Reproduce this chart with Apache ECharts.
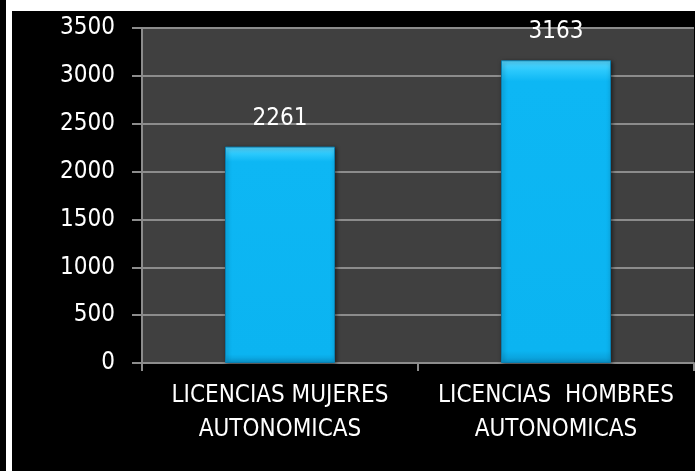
<!DOCTYPE html>
<html><head><meta charset="utf-8">
<script src="https://cdn.jsdelivr.net/npm/echarts@6/dist/echarts.min.js"></script>
<style>html,body{margin:0;padding:0;background:#fff}#c{width:699px;height:471px}</style>
</head><body><div id="c"></div>
<script>
var categories = ['LICENCIAS MUJERES\nAUTONOMICAS', 'LICENCIAS  HOMBRES\nAUTONOMICAS'];
var values = [2261, 3163];
var yTicks = [0, 500, 1000, 1500, 2000, 2500, 3000, 3500];

var FONT = '"Liberation Sans Narrow", "DejaVu Sans Condensed", sans-serif';
var chart = echarts.init(document.getElementById('c'), null, {renderer: 'canvas'});
chart.setOption({
  backgroundColor: '#ffffff',
  animation: false,
  graphic: [
    {type: 'rect', z: -10, shape: {x: 0, y: 0, width: 6, height: 471}, style: {fill: '#000'}},
    {type: 'rect', z: -10, shape: {x: 12, y: 11, width: 683, height: 460}, style: {fill: '#000'}}
  ],
  grid: {left: 142, right: 5, top: 28, bottom: 108, show: true, backgroundColor: '#404040', borderWidth: 0, z: 0},
  xAxis: {
    type: 'category', data: categories,
    axisLine: {lineStyle: {color: '#8c8c8c', width: 2}},
    axisTick: {show: true, length: 8, lineStyle: {color: '#8c8c8c', width: 2}},
    axisLabel: {color: '#ffffff', fontFamily: FONT, fontSize: 24, lineHeight: 34, margin: 16, interval: 0}
  },
  yAxis: {
    type: 'value', min: yTicks[0], max: yTicks[yTicks.length - 1], interval: 500,
    axisLine: {show: true, lineStyle: {color: '#8c8c8c', width: 2}},
    axisTick: {show: true, length: 10, lineStyle: {color: '#8c8c8c', width: 2}},
    splitLine: {lineStyle: {color: '#8c8c8c', width: 2}},
    axisLabel: {color: '#ffffff', fontFamily: FONT, fontSize: 24, margin: 27, formatter: function (v) { return String(v); }}
  },
  series: [{
    type: 'bar', data: values, barWidth: 110,
    itemStyle: {
      color: new echarts.graphic.LinearGradient(0, 0, 0, 1, [
        {offset: 0, color: '#5ad8ff'},
        {offset: 0.035, color: '#2ac8fc'},
        {offset: 0.07, color: '#0db7f4'},
        {offset: 0.96, color: '#0bb4f1'},
        {offset: 1, color: '#0a98d0'}
      ]),
      borderColor: '#0a7fb0', borderWidth: 1,
      shadowColor: 'rgba(0,0,0,0.5)', shadowBlur: 4, shadowOffsetX: 1, shadowOffsetY: 1
    },
    label: {show: true, position: 'top', distance: 16, color: '#ffffff', fontFamily: FONT, fontSize: 24}
  }]
});
</script></body></html>
